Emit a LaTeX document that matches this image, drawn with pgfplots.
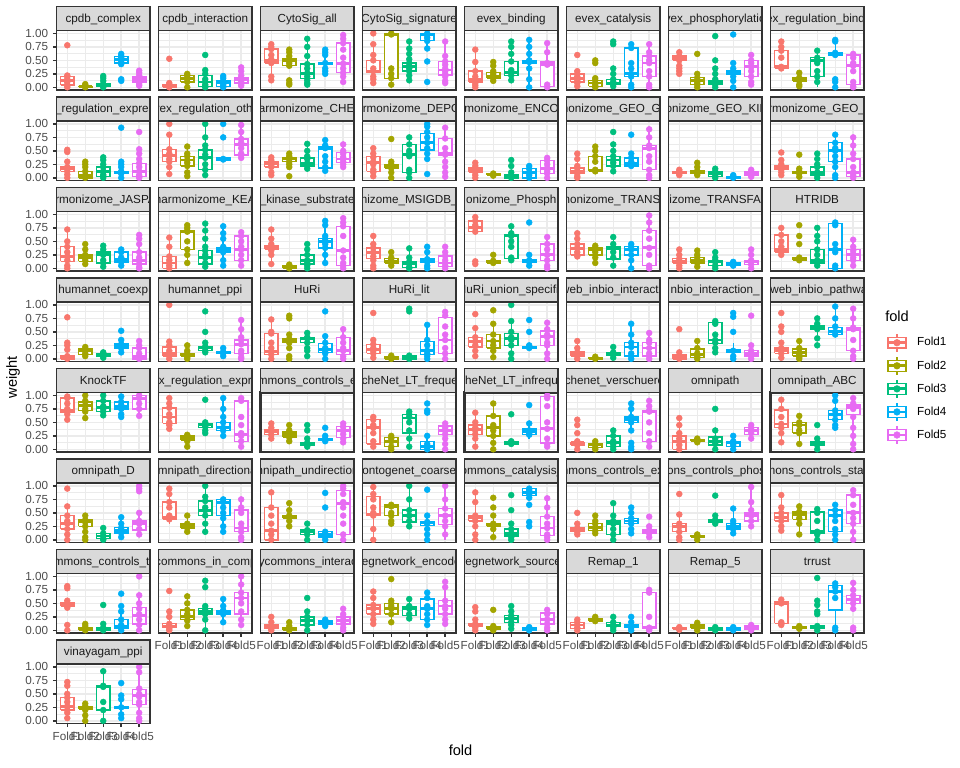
\documentclass[border=0pt]{standalone}
\usepackage{pgfplots}
\pgfplotsset{compat=1.18}
\usepackage{fontspec}
\setmainfont{Liberation Sans}
\definecolor{c1}{HTML}{F8766D}
\definecolor{c2}{HTML}{A3A500}
\definecolor{c3}{HTML}{00BF7D}
\definecolor{c4}{HTML}{00B0F6}
\definecolor{c5}{HTML}{E76BF3}
\definecolor{g10}{gray}{0.102}
\definecolor{g20}{gray}{0.2}
\definecolor{g30}{gray}{0.302}
\definecolor{g85}{gray}{0.851}
\definecolor{g92}{gray}{0.922}
\newcommand\stripdraw[1]{%
  \fill[g85] (rel axis cs:0,1) rectangle ([yshift=18bp]rel axis cs:1,1);
  \begin{scope}
  \clip (rel axis cs:0,1) rectangle ([yshift=18bp]rel axis cs:1,1);
  \node[text=g10, font=\fontsize{8.8}{10}\selectfont, inner sep=0pt, anchor=base]
    at ([yshift=6.2bp]rel axis cs:0.5,1) {#1};
  \end{scope}
  \draw[g20, line width=1.07bp] (rel axis cs:0,1) rectangle ([yshift=18bp]rel axis cs:1,1);
}
\pgfplotsset{
  panel/.style={scale only axis, width=70.1bp, height=44.5bp, anchor=north west,
    xmin=0.4, xmax=5.6, ymin=-0.05, ymax=1.05,
    xtick={1,2,3,4,5}, ytick={0,0.25,0.5,0.75,1},
    minor ytick={0.125,0.375,0.625,0.875},
    xticklabels={}, yticklabels={},
    xtick pos=bottom, ytick pos=left,
    grid=both, major grid style={g92, line width=1.07bp},
    minor grid style={g92, line width=0.53bp},
    axis line style={g20, line width=1.07bp},
    tick align=outside, major tick length=2.74bp, minor tick length=0pt,
    xtick style={draw=none}, ytick style={draw=none},
    clip=false, unbounded coords=jump,
    tick label style={font=\fontsize{8.8}{10}\selectfont, text=g30},
  },
  st/.style={after end axis/.code={\stripdraw{#1}}},
  yl/.style={ytick style={draw=g20, line width=1.07bp},
    yticklabels={0.00,0.25,0.50,0.75,1.00}},
  xl/.style={xtick style={draw=g20, line width=1.07bp},
    xticklabels={Fold1,Fold2,Fold3,Fold4,Fold5}},
  pos/.style 2 args={at={({(56.5+#1*102)*0.75bp},{-(30.7+#2*90.5)*0.75bp})}},
  thickb/.style={axis line style={line width=2bp}},
}
\newcommand\fd[7]{%
  \pgfmathsetmacro\xl{#1-0.375}\pgfmathsetmacro\xr{#1+0.375}%
  \addplot[c#1, line width=1.07bp] coordinates {(#1,#2) (#1,#3) (#1,nan) (#1,#5) (#1,#6)};
  \addplot[c#1, line width=1.07bp, fill=white] coordinates {(\xl,#3) (\xr,#3) (\xr,#5) (\xl,#5) (\xl,#3)};
  \addplot[c#1, line width=2.13bp] coordinates {(\xl,#4) (\xr,#4)};
  \addplot[c#1, only marks, mark=*, mark size=2.2bp, mark options={line width=0.4bp}]
    table[header=false, row sep=\\, x expr=#1, y index=0] {#7};
}
\begin{document}
\begin{tikzpicture}
\useasboundingbox (0,0) rectangle (720bp,-576bp);
% ---------------- row 0
\begin{axis}[panel, pos={0}{0}, yl, st={cpdb\_complex}]
\fd1{0}{.04}{.12}{.20}{.22}{.78\\.22\\.20\\.15\\.12\\.10\\.05\\.03\\0\\}
\fd2{0}{0}{.01}{.02}{.06}{.06\\.04\\.02\\.01\\0\\}
\fd3{0}{.02}{.05}{.06}{.21}{.21\\.17\\.12\\.06\\.05\\.03\\0\\}
\fd4{.43}{.45}{.52}{.57}{.62}{.62\\.58\\.55\\.52\\.47\\.43\\.15\\.12\\}
\fd5{.03}{.10}{.14}{.19}{.31}{.31\\.27\\.22\\.18\\.15\\.12\\.10\\.06\\.03\\}
\end{axis}
\begin{axis}[panel, pos={1}{0}, st={cpdb\_interaction}]
\fd1{0}{0}{.02}{.05}{.08}{.53\\.08\\.05\\.02\\0\\}
\fd2{0}{.10}{.17}{.22}{.25}{.25\\.22\\.18\\.15\\.10\\0\\}
\fd3{0}{.02}{.10}{.22}{.32}{.60\\.32\\.25\\.15\\.10\\.05\\.02\\0\\}
\fd4{0}{.02}{.09}{.12}{.21}{.21\\.17\\.12\\.09\\.05\\.02\\0\\}
\fd5{.03}{.08}{.14}{.18}{.37}{.37\\.30\\.22\\.18\\.14\\.10\\.06\\.03\\}
\end{axis}
\begin{axis}[panel, pos={2}{0}, st={CytoSig\_all}]
\fd1{.13}{.45}{.50}{.71}{.80}{.80\\.75\\.71\\.60\\.52\\.48\\.45\\.20\\.13\\}
\fd2{.40}{.40}{.49}{.53}{.70}{.70\\.65\\.58\\.53\\.49\\.45\\.40\\.13\\.08\\.05\\}
\fd3{.05}{.16}{.26}{.43}{.90}{.90\\.75\\.58\\.43\\.35\\.26\\.20\\.13\\.08\\.05\\}
\fd4{.25}{.43}{.45}{.46}{.70}{.70\\.65\\.60\\.45\\.35\\.30\\.25\\}
\fd5{.10}{.27}{.44}{.82}{.97}{.97\\.90\\.82\\.70\\.55\\.44\\.35\\.27\\.20\\.10\\}
\end{axis}
\begin{axis}[panel, pos={3}{0}, st={CytoSig\_signature}]
\fd1{.08}{.27}{.30}{.50}{.80}{1\\.80\\.60\\.50\\.35\\.30\\.20\\.15\\.08\\}
\fd2{.05}{.16}{.97}{.99}{1}{1\\.98\\.35\\.25\\.17\\.05\\}
\fd3{.13}{.30}{.38}{.45}{.85}{.85\\.72\\.62\\.52\\.45\\.40\\.35\\.30\\.22\\.13\\}
\fd4{.72}{.87}{.97}{1}{1}{1\\.97\\.92\\.86\\.72\\.48\\.10\\}
\fd5{.08}{.23}{.32}{.48}{.85}{.85\\.58\\.48\\.42\\.35\\.30\\.25\\.20\\.12\\.08\\}
\end{axis}
\begin{axis}[panel, pos={4}{0}, st={evex\_binding}]
\fd1{0}{.10}{.15}{.30}{.70}{.70\\.47\\.30\\.20\\.15\\.12\\.08\\.04\\0\\}
\fd2{.12}{.17}{.21}{.28}{.47}{.47\\.40\\.30\\.25\\.21\\.17\\.12\\}
\fd3{.13}{.22}{.27}{.48}{.85}{.85\\.75\\.62\\.48\\.32\\.27\\.22\\.13\\}
\fd4{0}{.45}{.48}{.50}{.88}{.88\\.75\\.62\\.50\\.47\\.35\\.15\\0\\}
\fd5{0}{.02}{.43}{.47}{.82}{.82\\.65\\.45\\.42\\.05\\0\\}
\end{axis}
\begin{axis}[panel, pos={5}{0}, st={evex\_catalysis}]
\fd1{.02}{.10}{.17}{.25}{.30}{.60\\.30\\.25\\.20\\.17\\.12\\.08\\.02\\}
\fd2{0}{.02}{.08}{.13}{.17}{.50\\.45\\.17\\.13\\.08\\.04\\0\\}
\fd3{.02}{.05}{.08}{.15}{.25}{.85\\.80\\.35\\.25\\.15\\.10\\.06\\.02\\}
\fd4{0}{.20}{.25}{.73}{.80}{.80\\.73\\.45\\.35\\.25\\.20\\.05\\0\\}
\fd5{0}{.20}{.45}{.58}{.80}{.80\\.65\\.58\\.50\\.45\\.30\\.20\\.05\\0\\}
\end{axis}
\begin{axis}[panel, pos={6}{0}, st={evex\_phosphorylation}]
\fd1{.42}{.50}{.53}{.58}{.65}{.65\\.58\\.55\\.50\\.40\\.35\\.30\\.25\\}
\fd2{0}{.05}{.12}{.18}{.25}{.62\\.25\\.18\\.12\\.08\\.05\\0\\}
\fd3{0}{.05}{.08}{.12}{.25}{.95\\.50\\.35\\.25\\.15\\.10\\.05\\0\\}
\fd4{.12}{.25}{.27}{.30}{.45}{.98\\.45\\.35\\.30\\.27\\.20\\.12\\0\\}
\fd5{.05}{.20}{.38}{.50}{.60}{.60\\.50\\.45\\.38\\.30\\.20\\.10\\.05\\}
\end{axis}
\begin{axis}[panel, pos={7}{0}, st={evex\_regulation\_binding}]
\fd1{.33}{.35}{.38}{.68}{.85}{.85\\.75\\.68\\.55\\.38\\.35\\}
\fd2{.02}{.12}{.15}{.18}{.27}{.27\\.18\\.15\\.12\\.05\\.02\\}
\fd3{0}{.20}{.50}{.55}{.68}{.68\\.55\\.50\\.45\\.30\\.20\\.10\\}
\fd4{.60}{.60}{.62}{.64}{.88}{.88\\.85\\.64\\.62\\.60\\.15\\.10\\0\\}
\fd5{0}{.05}{.40}{.60}{.62}{.62\\.55\\.45\\.40\\.30\\.10\\.02\\0\\}
\end{axis}
% ---------------- row 1
\begin{axis}[panel, pos={0}{1}, yl, st={evex\_regulation\_expression}]
\fd1{0}{.12}{.17}{.20}{.30}{.52\\.48\\.30\\.20\\.17\\.12\\.06\\0\\}
\fd2{0}{0}{.05}{.12}{.30}{.30\\.25\\.20\\.12\\.05\\.02\\0\\}
\fd3{0}{.03}{.12}{.20}{.38}{.38\\.33\\.25\\.20\\.12\\.06\\.03\\0\\}
\fd4{0}{.08}{.10}{.12}{.30}{.93\\.30\\.25\\.20\\.12\\.10\\.08\\0\\}
\fd5{0}{.02}{.12}{.27}{.53}{.85\\.53\\.45\\.35\\.27\\.20\\.12\\.05\\.02\\0\\}
\end{axis}
\begin{axis}[panel, pos={1}{1}, st={evex\_regulation\_other}]
\fd1{.07}{.30}{.42}{.53}{.80}{1\\.80\\.53\\.45\\.42\\.35\\.30\\.20\\.07\\}
\fd2{.03}{.22}{.33}{.40}{.58}{.58\\.45\\.40\\.33\\.28\\.22\\.10\\.03\\}
\fd3{.03}{.15}{.37}{.52}{1}{1\\.75\\.60\\.52\\.43\\.37\\.25\\.15\\.05\\}
\fd4{.33}{.33}{.35}{.37}{.37}{1\\.75\\.35\\.34\\}
\fd5{.37}{.42}{.62}{.72}{.98}{.98\\.85\\.72\\.65\\.62\\.55\\.45\\.42\\.37\\}
\end{axis}
\begin{axis}[panel, pos={2}{1}, st={harmonizome\_CHEA}]
\fd1{.05}{.20}{.27}{.30}{.38}{.38\\.33\\.30\\.27\\.22\\.20\\.10\\.05\\}
\fd2{.22}{.30}{.35}{.37}{.45}{.45\\.40\\.37\\.35\\.30\\.25\\.20\\.03\\}
\fd3{.17}{.22}{.27}{.37}{.63}{.63\\.50\\.40\\.35\\.27\\.22\\.17\\}
\fd4{.13}{.18}{.55}{.58}{.70}{.70\\.60\\.58\\.55\\.40\\.30\\.20\\.13\\}
\fd5{.20}{.28}{.35}{.47}{.62}{.62\\.50\\.45\\.38\\.35\\.30\\.25\\.20\\}
\end{axis}
\begin{axis}[panel, pos={3}{1}, st={harmonizome\_DEPOD}]
\fd1{0}{.12}{.28}{.40}{.55}{.55\\.45\\.38\\.30\\.25\\.15\\.10\\.03\\}
\fd2{0}{.18}{.23}{.25}{.30}{.72\\.30\\.25\\.23\\.18\\.10\\0\\}
\fd3{0}{.10}{.43}{.62}{.75}{.75\\.62\\.50\\.45\\.40\\.15\\.10\\0\\}
\fd4{.35}{.52}{.65}{.82}{1}{1\\.95\\.85\\.75\\.65\\.55\\.45\\.35\\.07\\}
\fd5{0}{.42}{.45}{.73}{.93}{.93\\.73\\.55\\.45\\.43\\.30\\.20\\.10\\.02\\}
\end{axis}
\begin{axis}[panel, pos={4}{1}, st={harmonizome\_ENCODE}]
\fd1{0}{.10}{.13}{.18}{.28}{.28\\.22\\.17\\.13\\.10\\.05\\0\\}
\fd2{.04}{.05}{.06}{.07}{.08}{.08\\.06\\.04\\}
\fd3{0}{0}{.03}{.06}{.10}{.33\\.22\\.10\\.05\\.03\\0\\}
\fd4{0}{0}{.10}{.17}{.22}{.22\\.17\\.10\\.05\\0\\}
\fd5{0}{.08}{.18}{.32}{.37}{.37\\.32\\.25\\.18\\.12\\.08\\0\\}
\end{axis}
\begin{axis}[panel, pos={5}{1}, st={harmonizome\_GEO\_GENE}]
\fd1{0}{.08}{.12}{.18}{.45}{.45\\.35\\.22\\.18\\.12\\.08\\.03\\0\\}
\fd2{.12}{.12}{.14}{.40}{.58}{.58\\.50\\.40\\.30\\.15\\.13\\.12\\}
\fd3{.12}{.22}{.33}{.40}{.62}{.85\\.62\\.50\\.40\\.33\\.28\\.22\\.12\\}
\fd4{.20}{.22}{.27}{.37}{.45}{.80\\.45\\.37\\.30\\.27\\.22\\}
\fd5{0}{.15}{.55}{.60}{.90}{.90\\.75\\.60\\.55\\.40\\.30\\.15\\.05\\0\\}
\end{axis}
\begin{axis}[panel, pos={6}{1}, st={harmonizome\_GEO\_KINASE}]
\fd1{.05}{.08}{.10}{.12}{.15}{.15\\.12\\.10\\.08\\.05\\}
\fd2{.05}{.08}{.10}{.13}{.28}{.28\\.20\\.13\\.10\\.08\\.05\\}
\fd3{0}{.03}{.08}{.12}{.17}{.17\\.12\\.08\\.03\\0\\}
\fd4{0}{0}{.01}{.03}{.05}{.05\\.03\\.01\\0\\}
\fd5{.02}{.05}{.09}{.12}{.15}{.15\\.12\\.09\\.05\\.02\\}
\end{axis}
\begin{axis}[panel, pos={7}{1}, st={harmonizome\_GEO\_TF}]
\fd1{.05}{.15}{.18}{.22}{.33}{.47\\.33\\.25\\.20\\.18\\.15\\.10\\.05\\}
\fd2{.02}{.08}{.10}{.12}{.17}{.43\\.17\\.12\\.10\\.08\\.02\\}
\fd3{0}{.05}{.10}{.20}{.45}{.45\\.35\\.25\\.20\\.10\\.05\\0\\}
\fd4{0}{.30}{.50}{.65}{.80}{.80\\.65\\.55\\.50\\.40\\.30\\.20\\.05\\0\\}
\fd5{0}{.03}{.10}{.35}{.75}{.75\\.60\\.45\\.35\\.20\\.10\\.05\\0\\}
\end{axis}
% ---------------- row 2
\begin{axis}[panel, pos={0}{2}, yl, st={harmonizome\_JASPAR}]
\fd1{0}{.13}{.22}{.40}{.72}{.72\\.50\\.40\\.30\\.22\\.15\\.05\\0\\}
\fd2{.08}{.13}{.20}{.25}{.45}{.45\\.35\\.25\\.20\\.15\\.08\\}
\fd3{0}{.10}{.25}{.30}{.42}{.42\\.35\\.30\\.25\\.15\\.10\\.03\\}
\fd4{.05}{.12}{.17}{.30}{.35}{.35\\.30\\.20\\.17\\.12\\.05\\}
\fd5{0}{.08}{.15}{.30}{.62}{.62\\.55\\.45\\.30\\.20\\.15\\.08\\.02\\0\\}
\end{axis}
\begin{axis}[panel, pos={1}{2}, st={harmonizome\_KEA}]
\fd1{0}{0}{.10}{.22}{.57}{.57\\.40\\.22\\.15\\.10\\.05\\0\\}
\fd2{.10}{.35}{.68}{.70}{.80}{.80\\.75\\.70\\.68\\.50\\.35\\.25\\.10\\}
\fd3{0}{.08}{.20}{.33}{.83}{.83\\.70\\.55\\.40\\.33\\.25\\.20\\.10\\.03\\}
\fd4{.05}{.30}{.35}{.38}{.78}{.78\\.65\\.55\\.40\\.35\\.30\\.15\\.05\\}
\fd5{0}{.15}{.35}{.60}{.67}{.67\\.60\\.50\\.40\\.35\\.25\\.15\\.05\\}
\end{axis}
\begin{axis}[panel, pos={2}{2}, st={\_kinase\_substrate}]
\fd1{.08}{.35}{.38}{.42}{.72}{.72\\.55\\.45\\.40\\.38\\.33\\.25\\.08\\}
\fd2{0}{0}{.02}{.05}{.07}{.07\\.05\\.02\\0\\}
\fd3{0}{.08}{.15}{.25}{.45}{.45\\.35\\.25\\.15\\.10\\.05\\0\\}
\fd4{.10}{.38}{.50}{.55}{.88}{.88\\.80\\.60\\.55\\.50\\.45\\.38\\.25\\.10\\}
\fd5{0}{.05}{.33}{.78}{.93}{.93\\.85\\.78\\.60\\.33\\.20\\.10\\.05\\0\\}
\end{axis}
\begin{axis}[panel, pos={3}{2}, st={nizome\_MSIGDB\_}]
\fd1{0}{.18}{.30}{.38}{.60}{.60\\.45\\.38\\.30\\.22\\.15\\.05\\0\\}
\fd2{.05}{.10}{.13}{.18}{.30}{.30\\.20\\.15\\.13\\.10\\.05\\}
\fd3{0}{.02}{.08}{.12}{.37}{.37\\.20\\.12\\.08\\.02\\0\\}
\fd4{0}{.12}{.15}{.17}{.40}{.40\\.30\\.17\\.15\\.12\\.05\\0\\}
\fd5{0}{.03}{.10}{.23}{.40}{.40\\.30\\.23\\.15\\.10\\.05\\0\\}
\end{axis}
\begin{axis}[panel, pos={4}{2}, st={onizome\_Phosph}]
\fd1{.65}{.68}{.75}{.88}{.95}{.95\\.88\\.80\\.75\\.68\\.13\\.08\\}
\fd2{.08}{.10}{.12}{.14}{.25}{.25\\.14\\.12\\.10\\}
\fd3{.15}{.18}{.60}{.63}{.78}{.78\\.65\\.60\\.50\\.40\\.20\\.15\\}
\fd4{.05}{.12}{.14}{.16}{.25}{.85\\.25\\.15\\.12\\.05\\}
\fd5{0}{.15}{.25}{.45}{.58}{.58\\.45\\.35\\.25\\.15\\.05\\0\\}
\end{axis}
\begin{axis}[panel, pos={5}{2}, st={harmonizome\_TRANSFAC}]
\fd1{.22}{.25}{.37}{.45}{.65}{.65\\.55\\.45\\.38\\.30\\.25\\.22\\}
\fd2{.10}{.25}{.35}{.38}{.42}{.42\\.38\\.35\\.30\\.20\\.10\\}
\fd3{.05}{.17}{.37}{.40}{.58}{.58\\.45\\.38\\.30\\.20\\.05\\}
\fd4{0}{.25}{.35}{.40}{.45}{.45\\.40\\.35\\.25\\.15\\0\\}
\fd5{0}{.05}{.38}{.70}{.98}{.98\\.85\\.70\\.55\\.38\\.25\\.05\\0\\}
\end{axis}
\begin{axis}[panel, pos={6}{2}, st={izome\_TRANSFA}]
\fd1{0}{.10}{.13}{.18}{.35}{.35\\.25\\.18\\.13\\.10\\.05\\0\\}
\fd2{.03}{.10}{.15}{.20}{.33}{.33\\.25\\.20\\.15\\.10\\.03\\}
\fd3{0}{.05}{.12}{.15}{.30}{.30\\.20\\.15\\.12\\.05\\0\\}
\fd4{.03}{.05}{.08}{.10}{.12}{.12\\.10\\.08\\.05\\}
\fd5{0}{.07}{.12}{.15}{.35}{.35\\.25\\.15\\.12\\.07\\0\\}
\end{axis}
\begin{axis}[panel, pos={7}{2}, st={HTRIDB}]
\fd1{.25}{.30}{.35}{.62}{.75}{.75\\.62\\.50\\.40\\.35\\.30\\.25\\}
\fd2{.15}{.15}{.17}{.20}{.20}{.80\\.60\\.45\\.20\\.17\\.15\\}
\fd3{.05}{.10}{.15}{.35}{.75}{.75\\.60\\.50\\.35\\.25\\.15\\.10\\.05\\}
\fd4{0}{0}{.35}{.83}{.85}{.85\\.80\\.45\\.35\\.30\\.05\\0\\}
\fd5{.05}{.15}{.25}{.35}{.53}{.53\\.40\\.33\\.27\\.20\\.15\\.05\\}
\end{axis}
% ---------------- row 3
\begin{axis}[panel, pos={0}{3}, yl, st={humannet\_coexp}]
\fd1{0}{0}{.02}{.05}{.08}{.77\\.30\\.25\\.17\\.05\\.02\\0\\}
\fd2{.05}{.08}{.15}{.18}{.22}{.22\\.18\\.15\\.10\\.05\\}
\fd3{.02}{.05}{.08}{.10}{.12}{.12\\.10\\.08\\.05\\.02\\}
\fd4{.12}{.20}{.25}{.28}{.35}{.52\\.35\\.27\\.25\\.20\\.12\\}
\fd5{0}{0}{.05}{.20}{.33}{.33\\.25\\.20\\.10\\.05\\0\\}
\end{axis}
\begin{axis}[panel, pos={1}{3}, st={humannet\_ppi}]
\fd1{0}{.05}{.10}{.22}{.32}{1\\.32\\.25\\.15\\.10\\.05\\0\\}
\fd2{0}{.05}{.08}{.10}{.25}{.25\\.15\\.10\\.08\\.03\\0\\}
\fd3{.12}{.15}{.20}{.23}{.30}{.88\\.50\\.30\\.23\\.20\\.15\\.12\\}
\fd4{.05}{.10}{.12}{.13}{.20}{.20\\.13\\.12\\.10\\.05\\}
\fd5{0}{.10}{.27}{.35}{.72}{.72\\.55\\.40\\.35\\.27\\.15\\.10\\.03\\0\\}
\end{axis}
\begin{axis}[panel, pos={2}{3}, st={HuRi}]
\fd1{0}{.08}{.13}{.47}{.73}{.73\\.50\\.47\\.30\\.20\\.13\\.08\\0\\}
\fd2{.20}{.30}{.33}{.37}{.45}{.80\\.75\\.45\\.37\\.33\\.30\\.20\\.05\\0\\}
\fd3{.15}{.30}{.38}{.40}{.48}{.48\\.40\\.38\\.30\\.20\\.15\\.05\\}
\fd4{0}{.12}{.18}{.28}{.42}{.88\\.42\\.30\\.20\\.15\\.10\\0\\}
\fd5{0}{.08}{.15}{.40}{.55}{.55\\.40\\.30\\.20\\.15\\.05\\0\\}
\end{axis}
\begin{axis}[panel, pos={3}{3}, st={HuRi\_lit}]
\fd1{0}{.10}{.18}{.27}{.35}{.85\\.35\\.27\\.20\\.15\\.10\\.02\\}
\fd2{0}{0}{.02}{.04}{.06}{.06\\.03\\0\\}
\fd3{0}{0}{.03}{.05}{.08}{.93\\.88\\.06\\.03\\0\\}
\fd4{0}{.08}{.15}{.32}{.63}{.63\\.35\\.25\\.15\\.10\\.05\\0\\}
\fd5{0}{.10}{.35}{.77}{.87}{.87\\.80\\.60\\.45\\.35\\.20\\.10\\0\\}
\end{axis}
\begin{axis}[panel, pos={4}{3}, st={HuRi\_union\_specific}]
\fd1{.05}{.22}{.32}{.40}{.57}{.83\\.57\\.40\\.32\\.25\\.15\\.05\\}
\fd2{.03}{.20}{.33}{.45}{.65}{.90\\.65\\.45\\.33\\.25\\.15\\.03\\}
\fd3{0}{.25}{.37}{.47}{.70}{1\\.70\\.50\\.40\\.35\\.25\\.10\\0\\}
\fd4{.20}{.20}{.22}{.23}{.25}{.72\\.50\\.25\\.22\\.20\\}
\fd5{0}{.25}{.42}{.52}{.67}{.67\\.55\\.45\\.40\\.30\\.25\\.10\\0\\}
\end{axis}
\begin{axis}[panel, pos={5}{3}, st={inweb\_inbio\_interaction}]
\fd1{0}{.05}{.10}{.13}{.33}{.33\\.20\\.12\\.08\\.05\\0\\}
\fd2{0}{0}{.01}{.02}{.05}{.04\\.01\\0\\}
\fd3{.02}{.07}{.10}{.12}{.22}{.22\\.12\\.10\\.07\\.02\\}
\fd4{0}{.05}{.22}{.30}{.65}{.65\\.45\\.30\\.22\\.10\\.05\\0\\}
\fd5{0}{.05}{.20}{.30}{.48}{.48\\.35\\.30\\.20\\.10\\.05\\0\\}
\end{axis}
\begin{axis}[panel, pos={6}{3}, st={nbio\_interaction\_}]
\fd1{0}{0}{.05}{.08}{.12}{.55\\.12\\.05\\0\\}
\fd2{0}{.02}{.08}{.18}{.33}{.33\\.20\\.10\\.05\\0\\}
\fd3{.12}{.28}{.35}{.67}{.70}{.70\\.65\\.45\\.35\\.30\\.20\\.12\\}
\fd4{0}{.13}{.15}{.17}{.30}{.85\\.78\\.50\\.15\\.05\\0\\}
\fd5{0}{.05}{.10}{.15}{.28}{.80\\.25\\.15\\.10\\.05\\0\\}
\end{axis}
\begin{axis}[panel, pos={7}{3}, st={inweb\_inbio\_pathway}]
\fd1{.02}{.10}{.15}{.20}{.30}{.85\\.60\\.50\\.30\\.20\\.15\\.10\\.02\\}
\fd2{0}{.05}{.12}{.18}{.33}{.33\\.20\\.12\\.08\\.03\\0\\}
\fd3{.45}{.55}{.60}{.62}{.75}{.75\\.65\\.60\\.55\\.38\\.25\\}
\fd4{.45}{.45}{.50}{.58}{.97}{.97\\.75\\.60\\.50\\.45\\}
\fd5{0}{.15}{.55}{.58}{.93}{.93\\.75\\.58\\.55\\.35\\.15\\.05\\0\\}
\end{axis}
% ---------------- row 4
\begin{axis}[panel, pos={0}{4}, yl, st={KnockTF}]
\fd1{.55}{.68}{.72}{.95}{.98}{.98\\.95\\.85\\.75\\.72\\.65\\.55\\}
\fd2{.58}{.72}{.82}{.88}{1}{1\\.90\\.82\\.75\\.70\\.58\\}
\fd3{.63}{.70}{.78}{.90}{1}{1\\.90\\.80\\.75\\.70\\.63\\}
\fd4{.60}{.75}{.80}{.88}{.98}{.98\\.88\\.82\\.75\\.65\\.60\\}
\fd5{.62}{.75}{.95}{1}{1}{1\\.95\\.85\\.75\\.62\\}
\end{axis}
\begin{axis}[panel, pos={1}{4}, st={x\_regulation\_expr}]
\fd1{.38}{.48}{.60}{.77}{.95}{.95\\.85\\.77\\.65\\.60\\.50\\.45\\.38\\}
\fd2{.05}{.17}{.22}{.25}{.27}{.27\\.25\\.20\\.15\\.05\\}
\fd3{.30}{.40}{.45}{.47}{.50}{.92\\.50\\.45\\.42\\.35\\.30\\}
\fd4{.23}{.35}{.40}{.50}{.95}{.95\\.75\\.60\\.50\\.40\\.35\\.25\\}
\fd5{.05}{.15}{.27}{.90}{.95}{.95\\.90\\.60\\.45\\.30\\.25\\.15\\.05\\}
\end{axis}
\begin{axis}[panel, pos={2}{4}, thickb, st={mmons\_controls\_e}]
\fd1{.17}{.27}{.33}{.37}{.48}{.48\\.40\\.35\\.33\\.27\\.20\\}
\fd2{.15}{.23}{.27}{.32}{.45}{.45\\.35\\.30\\.27\\.22\\.15\\}
\fd3{.03}{.08}{.10}{.12}{.20}{.45\\.35\\.20\\.12\\.10\\.05\\}
\fd4{.12}{.17}{.18}{.20}{.25}{.40\\.25\\.20\\.18\\.15\\}
\fd5{.13}{.22}{.35}{.42}{.48}{.48\\.42\\.35\\.28\\.20\\.13\\}
\end{axis}
\begin{axis}[panel, pos={3}{4}, st={NicheNet\_LT\_frequent}]
\fd1{0}{.10}{.40}{.55}{.60}{.60\\.55\\.45\\.40\\.30\\.15\\.05\\}
\fd2{0}{.05}{.15}{.22}{.25}{.25\\.20\\.15\\.05\\0\\}
\fd3{.05}{.30}{.58}{.65}{.70}{.70\\.65\\.60\\.50\\.35\\.20\\.05\\}
\fd4{0}{0}{.05}{.15}{.25}{.85\\.72\\.68\\.25\\.10\\.05\\0\\}
\fd5{0}{.27}{.35}{.43}{.48}{.48\\.40\\.35\\.28\\.20\\.10\\0\\}
\end{axis}
\begin{axis}[panel, pos={4}{4}, thickb, st={NicheNet\_LT\_infrequent}]
\fd1{.05}{.27}{.37}{.45}{.68}{.68\\.50\\.40\\.35\\.28\\.20\\.05\\}
\fd2{0}{.25}{.40}{.62}{.85}{.85\\.62\\.45\\.35\\.25\\.12\\0\\}
\fd3{.08}{.10}{.13}{.15}{.20}{.65\\.15\\.12\\.10\\}
\fd4{.20}{.27}{.33}{.38}{.48}{.82\\.48\\.35\\.30\\.27\\}
\fd5{.05}{.12}{.38}{.98}{1}{1\\.95\\.80\\.50\\.38\\.20\\.10\\.05\\}
\end{axis}
\begin{axis}[panel, pos={5}{4}, st={nichenet\_verschueren}]
\fd1{0}{.08}{.12}{.13}{.17}{.55\\.45\\.30\\.15\\.12\\.08\\0\\}
\fd2{0}{.03}{.08}{.10}{.15}{.15\\.10\\.08\\.03\\0\\}
\fd3{0}{.05}{.12}{.25}{.35}{.35\\.25\\.15\\.10\\.05\\0\\}
\fd4{.35}{.50}{.55}{.60}{.85}{.85\\.75\\.60\\.55\\.50\\.35\\.12\\.05\\0\\}
\fd5{.02}{.15}{.70}{.72}{.90}{.90\\.80\\.72\\.70\\.50\\.30\\.15\\.05\\}
\end{axis}
\begin{axis}[panel, pos={6}{4}, st={omnipath}]
\fd1{0}{0}{.15}{.25}{.58}{.58\\.45\\.30\\.20\\.15\\.08\\0\\}
\fd2{.13}{.15}{.17}{.18}{.20}{.20\\.18\\.17\\.15\\.13\\}
\fd3{0}{.08}{.15}{.23}{.35}{.75\\.35\\.20\\.15\\.10\\0\\}
\fd4{0}{.05}{.12}{.15}{.25}{.25\\.15\\.12\\.08\\0\\}
\fd5{.20}{.27}{.35}{.40}{.45}{.45\\.40\\.35\\.30\\.20\\}
\end{axis}
\begin{axis}[panel, pos={7}{4}, thickb, st={omnipath\_ABC}]
\fd1{.13}{.40}{.47}{.73}{.92}{.92\\.75\\.60\\.47\\.40\\.30\\.13\\}
\fd2{.10}{.30}{.45}{.50}{.62}{.62\\.50\\.45\\.35\\.30\\.10\\}
\fd3{0}{.08}{.12}{.15}{.20}{.45\\.20\\.12\\.08\\0\\}
\fd4{.40}{.55}{.65}{.72}{1}{1\\.90\\.72\\.65\\.55\\.45\\.40\\}
\fd5{0}{.65}{.78}{.82}{.95}{.95\\.85\\.80\\.75\\.60\\.40\\.25\\.10\\0\\}
\end{axis}
% ---------------- row 5
\begin{axis}[panel, pos={0}{5}, yl, st={omnipath\_D}]
\fd1{0}{.20}{.30}{.45}{.62}{.95\\.62\\.45\\.35\\.30\\.20\\.10\\0\\}
\fd2{0}{.25}{.33}{.37}{.45}{.45\\.37\\.33\\.25\\.15\\.05\\0\\}
\fd3{0}{.02}{.07}{.12}{.22}{.22\\.12\\.07\\.02\\0\\}
\fd4{.05}{.13}{.17}{.23}{.42}{.42\\.30\\.22\\.17\\.13\\.05\\}
\fd5{.10}{.18}{.30}{.35}{.50}{1\\.95\\.90\\.50\\.35\\.30\\.20\\.10\\}
\end{axis}
\begin{axis}[panel, pos={1}{5}, st={omnipath\_directional}]
\fd1{.30}{.38}{.42}{.70}{.95}{.95\\.85\\.70\\.60\\.45\\.40\\.38\\}
\fd2{.15}{.22}{.27}{.30}{.45}{.45\\.30\\.27\\.22\\.15\\}
\fd3{.15}{.45}{.55}{.72}{1}{1\\.80\\.72\\.60\\.55\\.45\\.30\\.15\\}
\fd4{.15}{.45}{.70}{.75}{.75}{.75\\.70\\.60\\.50\\.40\\.25\\.15\\}
\fd5{0}{.15}{.22}{.55}{.75}{.75\\.60\\.50\\.30\\.22\\.15\\.05\\0\\}
\end{axis}
\begin{axis}[panel, pos={2}{5}, st={omnipath\_undirectional}]
\fd1{0}{0}{.17}{.60}{.88}{.88\\.60\\.45\\.30\\.17\\.10\\0\\}
\fd2{.25}{.40}{.42}{.45}{.68}{.68\\.55\\.45\\.42\\.35\\.25\\}
\fd3{0}{.10}{.15}{.18}{.30}{.30\\.18\\.15\\.10\\0\\}
\fd4{0}{.05}{.10}{.15}{.20}{.87\\.60\\.15\\.10\\.05\\0\\}
\fd5{0}{.10}{.68}{.92}{1}{1\\.95\\.85\\.70\\.60\\.45\\.30\\.10\\0\\}
\end{axis}
\begin{axis}[panel, pos={3}{5}, st={ontogenet\_coarse}]
\fd1{0}{.45}{.47}{.80}{.98}{.98\\.85\\.75\\.60\\.50\\.45\\.20\\0\\}
\fd2{.30}{.45}{.62}{.65}{.65}{.65\\.62\\.50\\.45\\.35\\.30\\}
\fd3{.25}{.33}{.45}{.55}{1}{1\\.75\\.55\\.45\\.35\\.25\\}
\fd4{.10}{.27}{.32}{.33}{.45}{.93\\.45\\.33\\.30\\.20\\.10\\0\\}
\fd5{0}{.28}{.45}{.58}{1}{1\\.75\\.58\\.45\\.35\\.25\\.10\\}
\end{axis}
\begin{axis}[panel, pos={4}{5}, st={pathwaycommons\_catalysis\_precedes}]
\fd1{0}{.35}{.42}{.45}{.88}{.88\\.70\\.45\\.40\\.35\\.25\\.10\\0\\}
\fd2{.05}{.25}{.27}{.30}{.45}{.78\\.60\\.45\\.30\\.27\\.20\\.05\\}
\fd3{0}{.07}{.12}{.20}{.35}{.83\\.55\\.30\\.20\\.12\\.05\\0\\}
\fd4{.75}{.82}{.88}{.95}{.95}{.95\\.92\\.85\\.78\\.65\\.33\\.25\\}
\fd5{0}{.08}{.22}{.43}{.77}{.77\\.60\\.43\\.30\\.22\\.10\\.05\\0\\}
\end{axis}
\begin{axis}[panel, pos={5}{5}, st={pathwaycommons\_controls\_expression\_of}]
\fd1{.10}{.15}{.18}{.22}{.35}{.50\\.30\\.22\\.18\\.15\\.10\\}
\fd2{.12}{.17}{.23}{.30}{.45}{.45\\.35\\.30\\.23\\.17\\.12\\}
\fd3{0}{.10}{.30}{.35}{.68}{.68\\.45\\.35\\.30\\.20\\.10\\0\\}
\fd4{.12}{.30}{.35}{.40}{.60}{.60\\.50\\.40\\.35\\.30\\.20\\.12\\}
\fd5{.05}{.12}{.15}{.18}{.25}{.43\\.25\\.18\\.15\\.12\\.05\\}
\end{axis}
\begin{axis}[panel, pos={6}{5}, st={pathwaycommons\_controls\_phosphorylation\_of}]
\fd1{0}{.15}{.25}{.30}{.47}{.85\\.47\\.30\\.25\\.15\\.05\\0\\}
\fd2{0}{.05}{.07}{.08}{.10}{.10\\.08\\.05\\0\\}
\fd3{.30}{.33}{.35}{.37}{.45}{.82\\.45\\.37\\.35\\.30\\}
\fd4{.12}{.20}{.25}{.30}{.58}{.58\\.35\\.30\\.25\\.20\\.12\\}
\fd5{.25}{.35}{.45}{.50}{.98}{.98\\.70\\.55\\.48\\.45\\.35\\.25\\}
\end{axis}
\begin{axis}[panel, pos={7}{5}, st={pathwaycommons\_controls\_state\_change\_of}]
\fd1{.17}{.35}{.42}{.50}{.83}{.83\\.60\\.50\\.42\\.35\\.25\\.17\\}
\fd2{.10}{.38}{.47}{.52}{.62}{.62\\.52\\.47\\.40\\.30\\.10\\}
\fd3{0}{.13}{.15}{.52}{.57}{.57\\.50\\.35\\.15\\.10\\0\\}
\fd4{0}{.15}{.45}{.55}{.65}{.65\\.55\\.45\\.35\\.20\\.10\\0\\}
\fd5{0}{.30}{.50}{.83}{.92}{.92\\.83\\.65\\.50\\.40\\.30\\.15\\0\\}
\end{axis}
% ---------------- row 6
\begin{axis}[panel, pos={0}{6}, yl, st={pathwaycommons\_controls\_transport\_of}]
\fd1{.42}{.45}{.48}{.52}{.55}{.82\\.78\\.55\\.50\\.48\\.42\\.10\\0\\}
\fd2{0}{0}{.03}{.05}{.12}{.12\\.08\\.03\\0\\}
\fd3{0}{0}{.03}{.05}{.12}{.47\\.12\\.05\\.03\\0\\}
\fd4{0}{.03}{.07}{.20}{.45}{.68\\.45\\.35\\.20\\.10\\.05\\0\\}
\fd5{0}{.12}{.28}{.42}{.65}{1\\.65\\.50\\.40\\.30\\.20\\.10\\0\\}
\end{axis}
\begin{axis}[panel, pos={1}{6}, xl, st={pathwaycommons\_in\_complex\_with}]
\fd1{0}{.05}{.08}{.13}{.35}{.73\\.35\\.25\\.12\\.08\\.03\\0\\}
\fd2{.08}{.20}{.25}{.38}{.63}{.63\\.50\\.38\\.30\\.25\\.18\\.08\\}
\fd3{0}{.30}{.35}{.40}{.50}{.92\\.80\\.45\\.40\\.35\\.30\\.20\\0\\}
\fd4{.15}{.30}{.35}{.37}{.58}{.58\\.45\\.37\\.35\\.30\\.15\\}
\fd5{.10}{.30}{.60}{.70}{1}{1\\.85\\.70\\.60\\.50\\.35\\.20\\.10\\}
\end{axis}
\begin{axis}[panel, pos={2}{6}, xl, st={pathwaycommons\_interacts\_with}]
\fd1{0}{.03}{.07}{.10}{.25}{.25\\.15\\.07\\.03\\0\\}
\fd2{0}{0}{.02}{.04}{.15}{.15\\.08\\.02\\0\\}
\fd3{0}{.10}{.18}{.25}{.35}{.60\\.35\\.25\\.18\\.10\\0\\}
\fd4{.08}{.12}{.15}{.17}{.20}{.20\\.17\\.15\\.12\\.08\\}
\fd5{0}{.12}{.18}{.25}{.40}{.40\\.30\\.25\\.18\\.12\\.05\\0\\}
\end{axis}
\begin{axis}[panel, pos={3}{6}, xl, st={regnetwork\_encode}]
\fd1{.12}{.30}{.40}{.47}{.72}{.72\\.60\\.47\\.40\\.30\\.20\\.12\\}
\fd2{.15}{.30}{.40}{.50}{.55}{.95\\.55\\.50\\.45\\.40\\.30\\.15\\}
\fd3{.22}{.27}{.40}{.43}{.58}{.58\\.45\\.40\\.30\\.22\\}
\fd4{.10}{.20}{.40}{.58}{.70}{.70\\.60\\.45\\.40\\.30\\.20\\.10\\}
\fd5{.12}{.30}{.45}{.55}{.90}{.90\\.80\\.55\\.45\\.40\\.30\\.20\\.12\\}
\end{axis}
\begin{axis}[panel, pos={4}{6}, xl, st={regnetwork\_source}]
\fd1{0}{.08}{.10}{.13}{.22}{.43\\.35\\.20\\.12\\.10\\.05\\0\\}
\fd2{0}{.02}{.05}{.06}{.08}{.38\\.08\\.05\\.02\\0\\}
\fd3{.03}{.15}{.22}{.27}{.45}{.45\\.35\\.27\\.22\\.15\\.10\\.03\\}
\fd4{0}{0}{.02}{.04}{.06}{.06\\.03\\0\\}
\fd5{0}{.12}{.20}{.32}{.38}{.38\\.30\\.20\\.12\\.05\\0\\}
\end{axis}
\begin{axis}[panel, pos={5}{6}, xl, st={Remap\_1}]
\fd1{0}{.03}{.10}{.15}{.20}{.20\\.15\\.10\\.05\\0\\}
\fd2{.15}{.17}{.20}{.22}{.25}{.25\\.22\\.20\\.17\\}
\fd3{0}{.07}{.10}{.15}{.25}{.25\\.15\\.10\\.05\\0\\}
\fd4{0}{.05}{.07}{.10}{.25}{.25\\.15\\.08\\.05\\0\\}
\fd5{0}{.03}{.05}{.70}{.75}{.75\\.70\\.25\\.05\\.02\\0\\}
\end{axis}
\begin{axis}[panel, pos={6}{6}, xl, st={Remap\_5}]
\fd1{0}{.02}{.03}{.05}{.07}{.06\\.03\\.01\\}
\fd2{0}{.04}{.07}{.10}{.14}{.14\\.10\\.07\\.04\\0\\}
\fd3{0}{.01}{.03}{.04}{.06}{.06\\.03\\0\\}
\fd4{0}{.01}{.03}{.04}{.06}{.06\\.03\\0\\}
\fd5{0}{.02}{.05}{.08}{.10}{.10\\.07\\.04\\0\\}
\end{axis}
\begin{axis}[panel, pos={7}{6}, xl, st={trrust}]
\fd1{.10}{.13}{.50}{.53}{.57}{.57\\.52\\.50\\.15\\.12\\.10\\}
\fd2{0}{.03}{.05}{.06}{.08}{.08\\.05\\.03\\}
\fd3{0}{.03}{.05}{.08}{.10}{.97\\.55\\.47\\.35\\.30\\.08\\.05\\0\\}
\fd4{0}{.38}{.72}{.83}{.87}{.87\\.80\\.72\\.60\\.05\\0\\}
\fd5{.35}{.50}{.57}{.65}{.88}{.88\\.75\\.65\\.57\\.50\\.40\\.05\\0\\}
\end{axis}
% ---------------- row 7
\begin{axis}[panel, pos={0}{7}, yl, xl, st={vinayagam\_ppi}]
\fd1{.05}{.20}{.27}{.43}{.72}{.72\\.65\\.50\\.43\\.35\\.27\\.20\\.15\\.05\\}
\fd2{0}{.22}{.25}{.27}{.32}{.32\\.27\\.25\\.20\\.10\\0\\}
\fd3{0}{.20}{.64}{.65}{.92}{.92\\.65\\.63\\.35\\.20\\0\\}
\fd4{.05}{.23}{.25}{.26}{.45}{.70\\.47\\.40\\.25\\.12\\.05\\}
\fd5{0}{.30}{.47}{.58}{1}{1\\.90\\.60\\.50\\.45\\.35\\.30\\.15\\.05\\0\\}
\end{axis}
% ---------------- legend
\begin{axis}[hide axis, scale only axis, width=10bp, height=10bp,
  at={(665bp,-248.4bp)}, anchor=north west, xmin=0, xmax=1, ymin=0, ymax=1,
  legend style={at={(0,1)}, anchor=north west, draw=none, fill=none,
    inner sep=0pt, outer sep=0pt, row sep=0pt, column sep=7.4bp,
    nodes={inner sep=0pt, minimum height=17.3bp, font=\fontsize{8.8}{10}\selectfont, text=black}},
  legend cell align=left,
  legend image code/.code={
    \draw[line width=1.07bp] (6.65bp,-6.6bp) -- (6.65bp,6.6bp);
    \draw[line width=1.07bp, fill=white] (0bp,-4.1bp) rectangle (13.3bp,4.1bp);
    \draw[line width=2.13bp] (0bp,0bp) -- (13.3bp,0bp);
    \fill (6.65bp,0bp) circle (2.5bp);
  }]
\addlegendimage{c1}\addlegendentry{Fold1}
\addlegendimage{c2}\addlegendentry{Fold2}
\addlegendimage{c3}\addlegendentry{Fold3}
\addlegendimage{c4}\addlegendentry{Fold4}
\addlegendimage{c5}\addlegendentry{Fold5}
\end{axis}
\node[anchor=west, font=\fontsize{11}{13}\selectfont, inner sep=0pt] at (663.75bp,-237bp) {fold};
\node[font=\fontsize{11}{13}\selectfont, inner sep=0pt] at (345.4bp,-563bp) {fold};
\node[rotate=90, font=\fontsize{11}{13}\selectfont, inner sep=0pt] at (9.75bp,-283bp) {weight};
\end{tikzpicture}
\end{document}
